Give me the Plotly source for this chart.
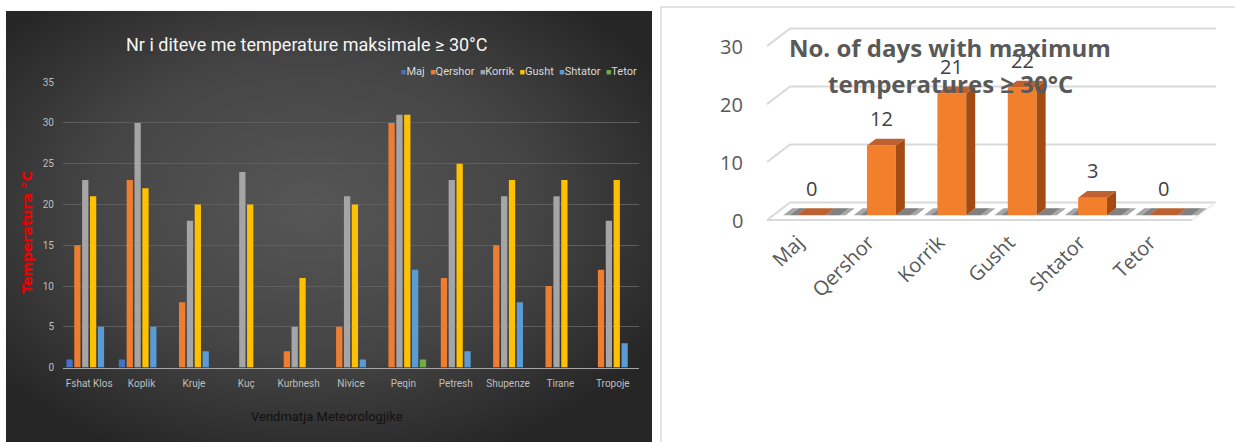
import base64
import plotly.graph_objects as go

# ---------------- data ----------------
stations = ["Fshat Klos", "Koplik", "Kruje", "Kuç", "Kurbnesh", "Nivice",
            "Peqin", "Petresh", "Shupenze", "Tirane", "Tropoje"]
months = ["Maj", "Qershor", "Korrik", "Gusht", "Shtator", "Tetor"]
maj = [1, 1, 0, 0, 0, 0, 0, 0, 0, 0, 0]
qershor = [15, 23, 8, 0, 2, 5, 30, 11, 15, 10, 12]
korrik = [23, 30, 18, 24, 5, 21, 31, 23, 21, 21, 18]
gusht = [21, 22, 20, 20, 11, 20, 31, 25, 23, 23, 23]
shtator = [5, 5, 2, 0, 0, 1, 12, 2, 8, 0, 3]
tetor = [0, 0, 0, 0, 0, 0, 1, 0, 0, 0, 0]
month_totals = [0, 12, 21, 22, 3, 0]
left_yticks = [0, 5, 10, 15, 20, 25, 30, 35]
right_yticks = [0, 10, 20, 30]

series = [maj, qershor, korrik, gusht, shtator, tetor]
colors = ["#4472c4", "#ed7d31", "#a5a5a5", "#ffc000", "#5b9bd5", "#70ad47"]

W, H = 1235, 442
def xp(px): return px / W
def yp(py): return 1 - py / H

NARROW = "Liberation Sans Narrow, Arial Narrow, Roboto, sans-serif"
OPEN = "Open Sans, Noto Sans, sans-serif"

fig = go.Figure()

# ---------------- left chart ----------------
for name, vals, col in zip(months, series, colors):
    fig.add_trace(go.Bar(x=stations, y=vals, name=name, marker_color=col,
                         marker_line_width=0, showlegend=False,
                         xaxis="x", yaxis="y"))

# ---------------- right chart (pseudo 3D) ----------------
idx = list(range(len(months)))
PX_X = 70.4   # px per category on right chart
PX_Y = 5.93   # px per unit on right chart
C0 = 811      # pixel of first category centre
BASE = 215    # pixel of value 0 on bars
XL, XR = 750, 1230
YT, YB = 10, 226
hw = 0.205
dxu = 9 / PX_X
dyu = 7 / PX_Y
back_off = 13 / PX_Y
front_off = -5 / PX_Y
bx0, bx1 = -21 / PX_X, 405 / PX_X
fx0, fx1 = -44 / PX_X, 381 / PX_X
label_shift = 13 / PX_X

shapes = []
shapes.append(dict(type="rect", xref="paper", yref="paper", x0=xp(661), x1=xp(1240),
                   y0=-0.05, y1=yp(2), line=dict(color="#d9d9d9", width=1.5),
                   fillcolor="white", layer="below"))
grid_col = "#d9d9d9"
for t in right_yticks:
    yb = t + back_off
    yf = t + front_off
    shapes.append(dict(type="line", xref="x2", yref="y2", x0=bx0, x1=bx1, y0=yb, y1=yb,
                       line=dict(color=grid_col, width=2), layer="below"))
    shapes.append(dict(type="line", xref="x2", yref="y2", x0=fx0, x1=bx0, y0=yf, y1=yb,
                       line=dict(color=grid_col, width=2), layer="below"))
shapes.append(dict(type="line", xref="x2", yref="y2", x0=fx0, x1=fx1,
                   y0=front_off, y1=front_off, line=dict(color=grid_col, width=2), layer="below"))
shapes.append(dict(type="line", xref="x2", yref="y2", x0=fx1, x1=bx1,
                   y0=front_off, y1=back_off, line=dict(color="#ececec", width=1.5), layer="below"))

for i, v in zip(idx, month_totals):
    # soft shadows on the floor, left and right of each bar
    for sx0, sx1, op in [(i - hw - 0.19, i - hw, 0.45), (i - hw - 0.09, i - hw, 0.35),
                         (i + hw, i + hw + dxu + 0.16, 0.45), (i + hw, i + hw + dxu + 0.07, 0.35)]:
        shapes.append(dict(type="path", xref="x2", yref="y2",
                           path=f"M {sx0},{0} L {sx1},{0} L {sx1+dxu},{dyu} L {sx0+dxu},{dyu} Z",
                           fillcolor="#3c3c3c", opacity=op, line=dict(width=0), layer="below"))
for i, v in zip(idx, month_totals):
    if v > 0:
        shapes.append(dict(type="path", xref="x2", yref="y2",
                           path=f"M {i+hw},0 L {i+hw+dxu},{dyu} L {i+hw+dxu},{v+dyu} L {i+hw},{v} Z",
                           fillcolor="#a24b12", line=dict(width=0), layer="above"))
    shapes.append(dict(type="path", xref="x2", yref="y2",
                       path=f"M {i-hw},{v} L {i+hw},{v} L {i+hw+dxu},{v+dyu} L {i-hw+dxu},{v+dyu} Z",
                       fillcolor="#bd6130", line=dict(width=0), layer="above"))

fig.add_trace(go.Bar(x=idx, y=month_totals, width=2 * hw, marker_color="#f27f2c",
                     marker_line_width=0, showlegend=False, xaxis="x2", yaxis="y2"))

annotations = []
annotations.append(dict(text="Nr i diteve me temperature maksimale ≥ 30°C", xref="paper", yref="paper",
                        x=xp(307), y=yp(40), showarrow=False, xanchor="center", yanchor="middle",
                        font=dict(family=NARROW, size=18, color="#f5f5f5")))
annotations.append(dict(text="<b>Temperatura °C</b>", xref="paper", yref="paper", textangle=-90,
                        x=xp(27), y=yp(233), showarrow=False, xanchor="center", yanchor="middle",
                        font=dict(family="DejaVu Sans, sans-serif", size=14, color="#f00000")))
annotations.append(dict(text="Vendmatja Meteorologjike", xref="paper", yref="paper",
                        x=xp(327), y=yp(421), showarrow=False, xanchor="center", yanchor="middle",
                        font=dict(family=NARROW, size=13, color="#111111")))
leg = "  ".join(f"<span style='color:{c};font-size:9px'>■</span>{m}" for m, c in zip(months, colors))
annotations.append(dict(text=leg, xref="paper", yref="paper", x=xp(639), y=yp(68),
                        showarrow=False, xanchor="right", yanchor="middle",
                        font=dict(family=NARROW, size=11, color="#d9d9d9")))

for t in right_yticks:
    annotations.append(dict(text=str(t), xref="paper", yref="y2", x=xp(745), y=t + front_off,
                            showarrow=False, xanchor="right", yanchor="middle",
                            font=dict(family=OPEN, size=20, color="#595959")))
for i, v in zip(idx, month_totals):
    annotations.append(dict(text=str(v), xref="x2", yref="y2", x=i, y=v, yshift=27,
                            showarrow=False, xanchor="center", yanchor="middle",
                            font=dict(family=OPEN, size=20, color="#404040")))
annotations.append(dict(text="<b>No. of days with maximum</b>", xref="paper", yref="paper",
                        x=xp(950), y=yp(43), showarrow=False, xanchor="center", yanchor="middle",
                        font=dict(family=OPEN, size=24, color="#595959")))
annotations.append(dict(text="<b>temperatures ≥ 30°C</b>", xref="paper", yref="paper",
                        x=xp(950), y=yp(80), showarrow=False, xanchor="center", yanchor="middle",
                        font=dict(family=OPEN, size=24, color="#595959")))

gw, gh = 646, 436
svg = (f'<svg xmlns="http://www.w3.org/2000/svg" width="{gw}" height="{gh}" viewBox="0 0 {gw} {gh}" '
       f'preserveAspectRatio="none"><defs><radialGradient id="g" cx="0.47" cy="0.45" r="0.62">'
       f'<stop offset="0" stop-color="#565656"/><stop offset="0.55" stop-color="#454545"/>'
       f'<stop offset="1" stop-color="#262626"/></radialGradient></defs>'
       f'<rect width="{gw}" height="{gh}" fill="url(#g)"/></svg>')
src = "data:image/svg+xml;base64," + base64.b64encode(svg.encode()).decode()

fig.update_layout(
    width=W, height=H, autosize=False, margin=dict(l=0, r=0, t=0, b=0, pad=0),
    paper_bgcolor="white", plot_bgcolor="rgba(0,0,0,0)",
    barmode="group", bargap=0.1, bargroupgap=0.2,
    showlegend=False,
    images=[dict(source=src, xref="paper", yref="paper", x=xp(6), y=yp(6),
                 sizex=gw / W, sizey=gh / H + 0.02, sizing="stretch", xanchor="left",
                 yanchor="top", layer="below")],
    xaxis=dict(domain=[xp(63), xp(639)], showgrid=False, zeroline=False,
               showline=True, linecolor="#a6a6a6", linewidth=1, ticks="",
               tickfont=dict(family=NARROW, size=10, color="#bfbfbf"),
               ticklabelstandoff=6, fixedrange=True),
    yaxis=dict(domain=[yp(371), yp(79)], range=[0, 35], tickvals=left_yticks,
               showgrid=True, gridcolor="#5e5e5e", gridwidth=1, zeroline=False,
               showline=False, ticks="",
               tickfont=dict(family=NARROW, size=10, color="#bfbfbf"),
               ticklabelstandoff=8, fixedrange=True),
    xaxis2=dict(domain=[xp(XL), xp(XR)], anchor="y2",
                range=[(XL - C0) / PX_X, (XR - C0) / PX_X],
                tickvals=[i - label_shift for i in idx], ticktext=months, tickangle=-45,
                showgrid=False, zeroline=False, showline=False, ticks="",
                tickfont=dict(family=OPEN, size=20, color="#595959"), fixedrange=True),
    yaxis2=dict(domain=[yp(YB), yp(YT)], anchor="x2",
                range=[-(YB - BASE) / PX_Y, (BASE - YT) / PX_Y],
                visible=False, fixedrange=True),
    shapes=shapes, annotations=annotations,
)

post = (
    "var d=document.documentElement,b=document.body;"
    "[d,b].forEach(function(e){e.style.margin='0';e.style.padding='0';"
    "e.style.overflow='hidden';e.style.height='442px';e.style.width='1235px';});"
)
fig.write_html("out.html", config={"displayModeBar": False}, post_script=post)
